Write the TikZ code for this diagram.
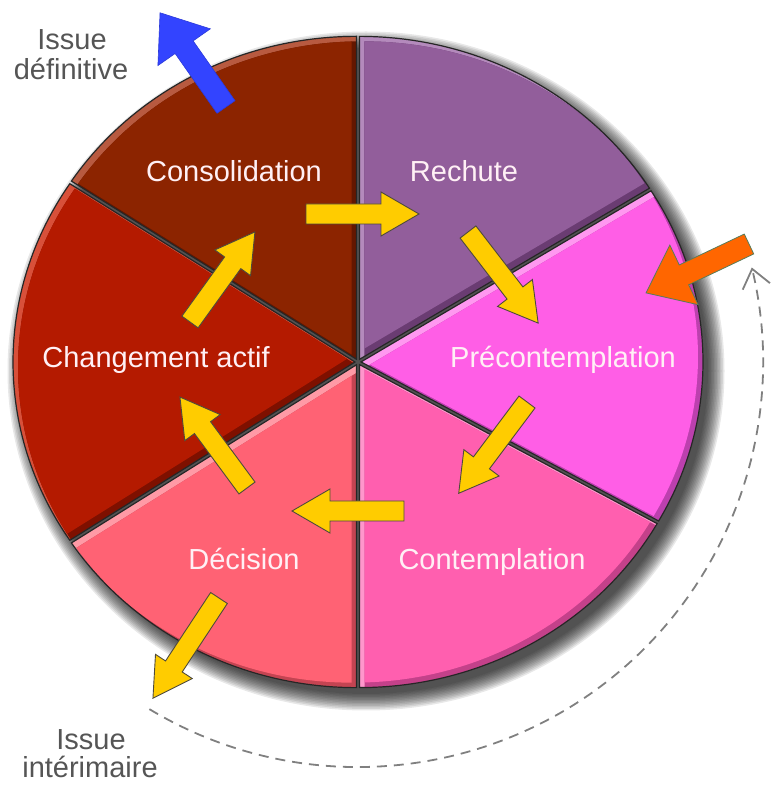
\documentclass[tikz,border=0pt]{standalone}
\usepackage{fontspec}
\setmainfont{Liberation Sans}
\usetikzlibrary{arrows.meta}
\definecolor{rechB}{HTML}{925E9B}\definecolor{rechL}{HTML}{B48ABC}\definecolor{rechD}{HTML}{6A3C72}
\definecolor{consB}{HTML}{8C2400}\definecolor{consL}{HTML}{B85A40}\definecolor{consD}{HTML}{641700}
\definecolor{chanB}{HTML}{B41A00}\definecolor{chanL}{HTML}{D8503A}\definecolor{chanD}{HTML}{7E1000}
\definecolor{deciB}{HTML}{FF6274}\definecolor{deciL}{HTML}{FF9AA6}\definecolor{deciD}{HTML}{C44452}
\definecolor{contB}{HTML}{FF5FAF}\definecolor{contL}{HTML}{FF96CC}\definecolor{contD}{HTML}{C4418A}
\definecolor{precB}{HTML}{FF5EE6}\definecolor{precL}{HTML}{FF98F0}\definecolor{precD}{HTML}{BC40AE}
\definecolor{arrYel}{HTML}{FFCC00}
\definecolor{arrBlue}{HTML}{3344FF}
\definecolor{arrOrange}{HTML}{FF6600}
\definecolor{labwhite}{HTML}{FFF0F5}
\definecolor{issuegray}{HTML}{555555}
\definecolor{dashgray}{HTML}{808080}
\newcommand{\pieslice}[6]{%
\begin{scope}[shift={(#3:3pt)}]
\begin{scope}
\clip (0,0) -- (#1:342pt and 323pt) arc[start angle=#1,end angle=#2,x radius=342pt,y radius=323pt] -- cycle;
\fill[#5] (-400pt,-400pt) rectangle (400pt,400pt);
\begin{scope}[shift={(5pt,-5pt)}]
\clip (0,0) -- (#1:342pt and 323pt) arc[start angle=#1,end angle=#2,x radius=342pt,y radius=323pt] -- cycle;
\fill[#6] (-400pt,-400pt) rectangle (400pt,400pt);
\begin{scope}[shift={(-10pt,10pt)}]
\fill[#4] (0,0) -- (#1:342pt and 323pt) arc[start angle=#1,end angle=#2,x radius=342pt,y radius=323pt] -- cycle;
\end{scope}
\end{scope}
\end{scope}
\draw[line width=1.2pt, black!85] (0,0) -- (#1:342pt and 323pt) arc[start angle=#1,end angle=#2,x radius=342pt,y radius=323pt] -- cycle;
\end{scope}}
\newcommand{\blockarrow}[8]{%
\begin{scope}[shift={(#2pt,#3pt)}, rotate=#4]
\filldraw[#1] (0pt,-#6pt) -- ({#5pt-#8pt},-#6pt) -- ({#5pt-#8pt},-#7pt) -- (#5pt,0pt) -- ({#5pt-#8pt},#7pt) -- ({#5pt-#8pt},#6pt) -- (0pt,#6pt) -- cycle;
\end{scope}}
\tikzset{
  lab/.style={text=labwhite, font=\fontsize{29pt}{31pt}\selectfont, inner sep=0pt, anchor=base},
  issue/.style={text=issuegray, font=\fontsize{29pt}{31pt}\selectfont, inner sep=0pt, anchor=base},
  yarrow/.style={fill=arrYel, draw=black!80!yellow, line width=0.9pt, line join=miter},
  barrow/.style={fill=arrBlue, draw=arrBlue!85!black, line width=0.6pt},
  oarrow/.style={fill=arrOrange, draw=black!55!green!30!gray, line width=0.8pt},
}
\begin{document}
\begin{tikzpicture}[x=1pt,y=1pt]
\useasboundingbox (0,0) rectangle (776,785);
% drop shadow
\begin{scope}[shift={(366pt,414pt)}]
\foreach \i in {0,...,11}
  \fill[black,opacity=0.09] (0,0) ellipse[x radius={(342+1.5*\i)*1pt}, y radius={(323+1.5*\i)*1pt}];
\end{scope}
% pie
\begin{scope}[shift={(358pt,423pt)}]
\pieslice{32}{90}{61}{rechB}{rechL}{rechD}
\pieslice{90}{146.5}{118}{consB}{consL}{consD}
\pieslice{146.5}{213.5}{180}{chanB}{chanL}{chanD}
\pieslice{213.5}{270}{242}{deciB}{deciL}{deciD}
\pieslice{270}{330.5}{300}{contB}{contL}{contD}
\pieslice{-29.5}{32}{1}{precB}{precL}{precD}
\end{scope}
% dashed return arc
\draw[shift={(358pt,423pt)}, dashgray, line width=1.8pt, dash pattern=on 10pt off 7pt,
  -{Straight Barb[length=18pt,width=28pt,line width=1.8pt]}]
  (-121:405pt) arc[start angle=-121,end angle=13.5,radius=405pt];
% yellow arrows
\blockarrow{yarrow}{306}{571}{0}{113}{10}{22}{38}
\blockarrow{yarrow}{468}{553}{-52.4}{115}{10}{22}{38}
\blockarrow{yarrow}{527}{383}{233.2}{114}{10}{22}{38}
\blockarrow{yarrow}{404}{274}{180}{112}{10}{22}{38}
\blockarrow{yarrow}{247}{297}{126.4}{113}{10}{22}{38}
\blockarrow{yarrow}{190}{463}{54.2}{111}{10}{22}{38}
\blockarrow{yarrow}{219}{187}{236.6}{120}{10}{22}{38}
% blue and orange arrows
\blockarrow{barrow}{226}{678}{125}{115}{11}{32}{42}
\blockarrow{oarrow}{749}{541}{205.4}{114}{11}{33}{42}
% labels
\node[lab] (cons) at (234,603) {Consolidation};
\node[lab] (rech) at (464,603) {Rechute};
\node[lab] (prec) at (563,417) {Précontemplation};
\node[lab] (chan) at (156,417) {Changement actif};
\node[lab] (deci) at (244,215) {Décision};
\node[lab] (cont) at (492,215) {Contemplation};
\node[issue] (isdefA) at (72,735) {Issue};
\node[issue] (isdefB) at (71,705) {définitive};
\node[issue] (isintA) at (91,35) {Issue};
\node[issue] (isintB) at (90,7) {intérimaire};
\end{tikzpicture}
\end{document}
